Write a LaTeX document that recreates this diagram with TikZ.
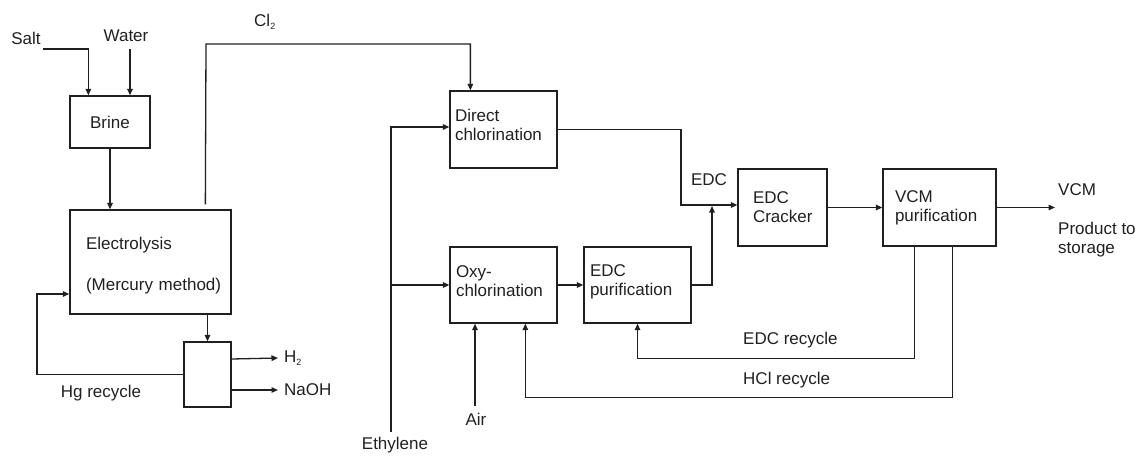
\documentclass[tikz,border=0pt]{standalone}
\usepackage{fontspec}
\setmainfont{Liberation Sans}
\usetikzlibrary{arrows.meta,calc}
\definecolor{ink}{HTML}{231F20}
\begin{document}
\begin{tikzpicture}[x=1pt,y=-1pt,
  font=\fontsize{17}{19}\selectfont,
  every node/.style={text=ink},
  line/.style={draw=ink,line width=1.3pt},
  arr/.style={line,-{Triangle[length=6.5pt,width=5.5pt]}},
  box/.style={draw=ink,line width=1.3pt,rectangle,inner ysep=0pt,align=left},
  lbl/.style={inner sep=0pt}]
\useasboundingbox (0,0) rectangle (1139,455);

% boxes
\node[box,minimum width=80,minimum height=52] (brine) at (110,122) {Brine};
\node[box,minimum width=161,minimum height=104,inner xsep=16pt,text width=129pt] (elec) at (150.5,262) {Electrolysis\\[22pt](Mercury~method)\par\vspace*{-7pt}};
\node[box,minimum width=47,minimum height=65] (sep) at (207.5,374.5) {};
\node[box,minimum width=107,minimum height=77,inner xsep=5pt,text width=97pt] (dc) at (503.5,129.5) {Direct\\chlorination\par\vspace*{9pt}};
\node[box,minimum width=107,minimum height=76,inner xsep=6pt,text width=95pt] (oxy) at (503.5,285) {Oxy-\\chlorination\par\vspace*{7pt}};
\node[box,minimum width=107,minimum height=76,inner xsep=6pt,text width=95pt] (ep) at (637.5,285) {EDC\\purification\par\vspace*{7pt}};
\node[box,minimum width=89,minimum height=77,inner xsep=15pt,text width=59pt] (crk) at (782.5,207.5) {EDC\\Cracker};
\node[box,minimum width=113,minimum height=77,inner xsep=12pt,text width=89pt] (vcm) at (939.5,207.5) {VCM\\purification};

% labels
\node[lbl] (salt) at (26,38) {Salt};
\node[lbl] (water) at (126,36) {Water};
\node[lbl] (cl2) at (265,22) {Cl\textsubscript{\fontsize{9}{9}\selectfont 2}};
\node[lbl,anchor=west] (h2) at (284,358) {H\textsubscript{\fontsize{9}{9}\selectfont 2}};
\node[lbl,anchor=west] (naoh) at (284,390) {NaOH};
\node[lbl] (hg) at (101,393) {Hg recycle};
\node[lbl] (eth) at (395,445) {Ethylene};
\node[lbl] (air) at (476,419) {Air};
\node[lbl] (edc) at (709,180) {EDC};
\node[lbl,anchor=west] (edcr) at (743,340) {EDC recycle};
\node[lbl,anchor=west] (hclr) at (743,380) {HCl recycle};
\node[lbl,anchor=north west,align=left] (vcmout) at (1058,183) {VCM\\[20pt]Product to\\storage};

% free ends
\coordinate (saltin) at (43,49);
\coordinate (waterin) at (130,49);
\coordinate (ethin) at (391,432);
\coordinate (airin) at (475,406);
\coordinate (edcjoin) at (681,205);
\coordinate (merge) at (712,206);
\coordinate (prod) at (1055,207.5);
\coordinate (cltop) at (206,44);

% connectors
\draw[arr] (saltin) -| ($(brine.north west)+(19,0)$);
\draw[arr] (waterin) -- (waterin |- brine.north);
\draw[arr] (brine.south) -- (brine.south |- elec.north);
\draw[arr] ($(elec.north west)+(136,-5)$) -- (cltop) -| ($(dc.north west)+(21,0)$);
\draw[arr] (sep.north |- elec.south) -- (sep.north);
\draw[arr] ($(sep.east)+(0,-15.5)$) -- ($(h2.west)+(-6,0)$);
\draw[arr] ($(sep.east)+(0,15.5)$) -- ($(naoh.west)+(-6,0)$);
\draw[arr] (sep.west) -- (sep.west -| 37,0) |- ($(elec.west)+(0,32)$);
\draw[arr] (ethin) |- ($(dc.west)+(0,-2.5)$);
\draw[arr] (ethin |- oxy.west) -- (oxy.west);
\draw[arr] (airin) -- (airin |- oxy.south);
\draw[arr] (oxy.east) -- (ep.west);
\draw[arr] (dc.east) -| (edcjoin) -- (edcjoin -| crk.west);
\draw[arr] (ep.east) -| (merge);
\draw[arr] (crk.east) -- (vcm.west);
\draw[arr] (vcm.east) -- (prod);
\draw[arr] ($(vcm.south west)+(32,0)$) -- ++(0,112) -| (ep.south);
\draw[arr] ($(vcm.south west)+(70,0)$) -- ++(0,151) -| ($(oxy.south west)+(76,0)$);
\end{tikzpicture}
\end{document}
